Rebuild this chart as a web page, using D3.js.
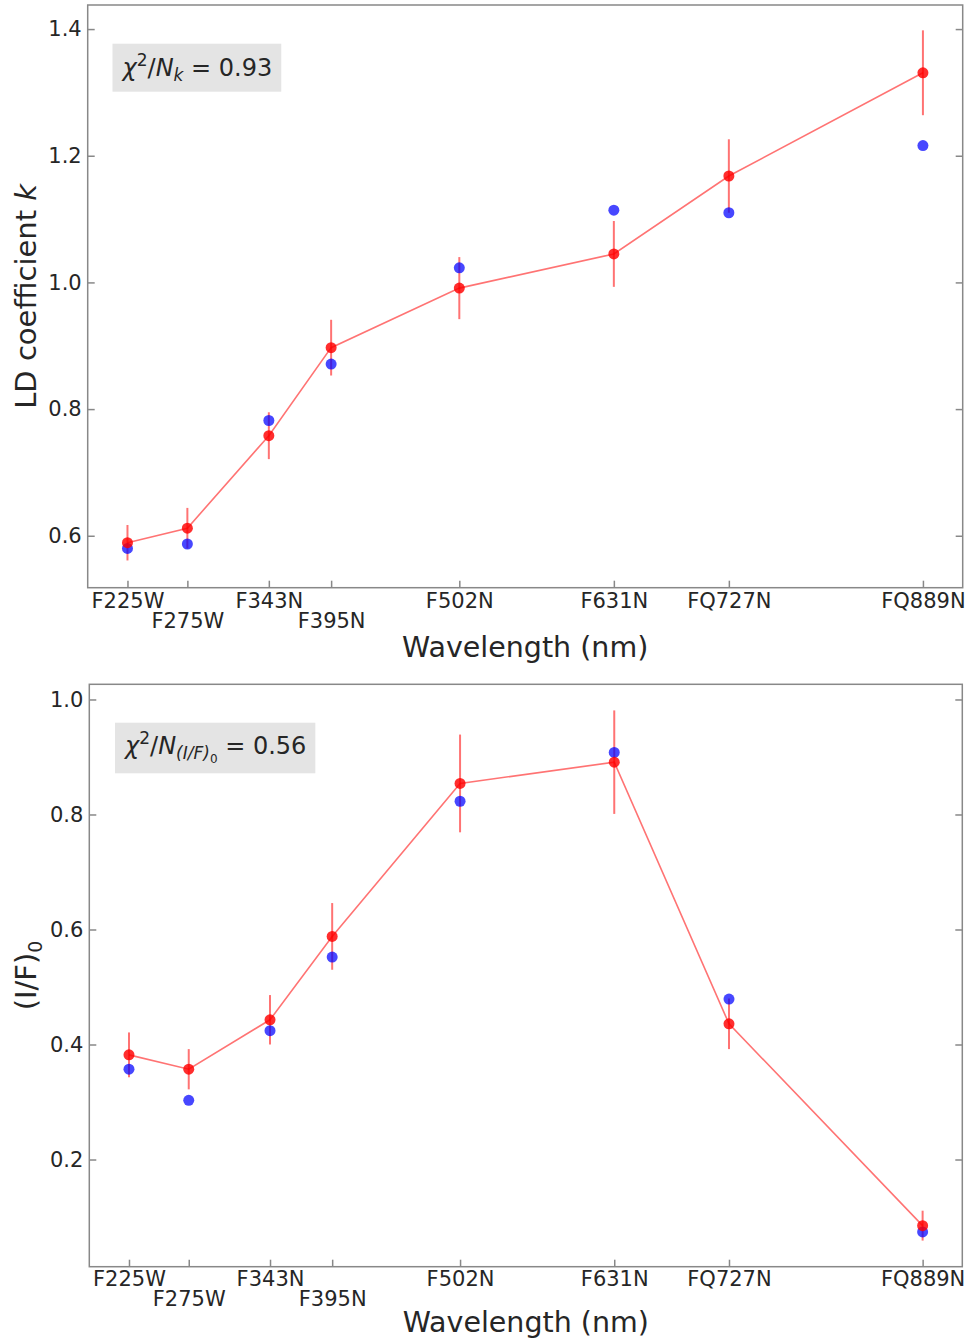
<!DOCTYPE html>
<html>
<head>
<meta charset="utf-8">
<script src="https://cdn.jsdelivr.net/npm/d3@7"></script>
<style>
  html, body { margin: 0; padding: 0; background: #fff; }
  svg { display: block; font-family: "DejaVu Sans", sans-serif; }
</style>
</head>
<body>
<svg id="chart" width="969" height="1343"></svg>
<script>
// ---- data ----
const filters = ["F225W", "F275W", "F343N", "F395N", "F502N", "F631N", "FQ727N", "FQ889N"];
const wavelengths = [225, 275, 343, 395, 502, 631, 727, 889];
// label row (0 = first row, 1 = second row, to avoid overlap)
const labelRow = [0, 1, 0, 1, 0, 0, 0, 0];

// LD coefficient k
const kObserved = [0.589, 0.612, 0.758, 0.897, 0.991, 1.045, 1.168, 1.331];
const kError    = [0.028, 0.032, 0.037, 0.044, 0.049, 0.052, 0.058, 0.067];
const kModel    = [0.580, 0.587, 0.782, 0.871, 1.023, 1.114, 1.110, 1.216];

// (I/F)_0
const ifObserved = [0.382, 0.357, 0.443, 0.588, 0.854, 0.891, 0.436, 0.085];
const ifError    = [0.039, 0.035, 0.043, 0.058, 0.085, 0.090, 0.044, 0.026];
const ifModel    = [0.357, 0.303, 0.424, 0.552, 0.823, 0.908, 0.479, 0.074];

const kTicks  = [0.6, 0.8, 1.0, 1.2, 1.4];
const ifTicks = [0.2, 0.4, 0.6, 0.8, 1.0];

// ---- drawing ----
const svg = d3.select("#chart");
const AXIS_COLOR = "#888";
const TEXT_COLOR = "#262626";

function drawPanel(cfg) {
  const x = d3.scaleLinear().domain([191.8, 922.2]).range([cfg.left, cfg.right]);
  const y = d3.scaleLinear().domain(cfg.yDomain).range([cfg.bottom, cfg.top]);
  const g = svg.append("g");

  // frame
  g.append("rect")
    .attr("x", cfg.left).attr("y", cfg.top)
    .attr("width", cfg.right - cfg.left).attr("height", cfg.bottom - cfg.top)
    .attr("fill", "none").attr("stroke", AXIS_COLOR).attr("stroke-width", 1.5);

  // left axis
  const ya = g.append("g").attr("transform", `translate(${cfg.left},0)`)
    .call(d3.axisLeft(y).tickValues(cfg.yTicks).tickFormat(d3.format(".1f")).tickSize(-7).tickPadding(6));
  // right axis (ticks only)
  const yr = g.append("g").attr("transform", `translate(${cfg.right},0)`)
    .call(d3.axisRight(y).tickValues(cfg.yTicks).tickFormat("").tickSize(-7));
  // bottom axis
  const xa = g.append("g").attr("transform", `translate(0,${cfg.bottom})`)
    .call(d3.axisBottom(x).tickValues(wavelengths).tickFormat((d, i) => filters[i]).tickSize(-7).tickPadding(cfg.xPad));
  [ya, yr, xa].forEach(a => {
    a.select(".domain").remove();
    a.selectAll(".tick line").attr("stroke", AXIS_COLOR).attr("stroke-width", 1.5);
    a.selectAll(".tick text").attr("fill", TEXT_COLOR).attr("font-size", 21)
      .attr("font-family", "DejaVu Sans, sans-serif");
  });
  xa.selectAll(".tick text").attr("y", (d, i) => cfg.xPad + labelRow[i] * 20);

  // connecting line
  const line = d3.line().x((d, i) => x(wavelengths[i])).y(d => y(d));
  g.append("path").datum(cfg.observed).attr("d", line)
    .attr("fill", "none").attr("stroke", "#ff0000").attr("stroke-opacity", 0.55).attr("stroke-width", 1.6);

  // error bars
  g.selectAll(".err").data(cfg.observed).enter().append("line")
    .attr("x1", (d, i) => x(wavelengths[i])).attr("x2", (d, i) => x(wavelengths[i]))
    .attr("y1", (d, i) => y(d - cfg.error[i])).attr("y2", (d, i) => y(d + cfg.error[i]))
    .attr("stroke", "#ff0000").attr("stroke-opacity", 0.55).attr("stroke-width", 2);

  // model points (blue)
  g.selectAll(".model").data(cfg.model).enter().append("circle")
    .attr("cx", (d, i) => x(wavelengths[i])).attr("cy", d => y(d)).attr("r", 5.5)
    .attr("fill", "#0000ff").attr("fill-opacity", 0.72);

  // observed points (red)
  g.selectAll(".obs").data(cfg.observed).enter().append("circle")
    .attr("cx", (d, i) => x(wavelengths[i])).attr("cy", d => y(d)).attr("r", 5.5)
    .attr("fill", "#ff0000").attr("fill-opacity", 0.82);

  // x axis title
  g.append("text").attr("x", (cfg.left + cfg.right) / 2).attr("y", cfg.xTitleY)
    .attr("text-anchor", "middle").attr("font-size", 28.5).attr("fill", TEXT_COLOR)
    .text("Wavelength (nm)");

  // y axis title
  const yt = g.append("text")
    .attr("transform", `translate(36,${(cfg.top + cfg.bottom) / 2}) rotate(-90)`)
    .attr("text-anchor", "middle").attr("font-size", 29).attr("fill", TEXT_COLOR);
  cfg.yTitle(yt);

  // annotation box
  const ann = g.append("g");
  const box = ann.append("rect").attr("fill", "#e4e4e4");
  const t = ann.append("text").attr("x", cfg.annX).attr("y", cfg.annY)
    .attr("font-size", 24).attr("fill", TEXT_COLOR);
  cfg.annText(t);
  const bb = t.node().getBBox();
  box.attr("x", bb.x - 8).attr("width", bb.width + 17)
    .attr("y", cfg.annY - cfg.boxUp).attr("height", cfg.boxH);
}

drawPanel({
  left: 87.7, right: 962.7, top: 5, bottom: 587.7,
  yDomain: [0.518, 1.438], yTicks: kTicks,
  observed: kObserved, error: kError, model: kModel,
  xPad: 5, xTitleY: 657,
  yTitle: t => {
    t.append("tspan").text("LD coefficient ");
    t.append("tspan").attr("font-style", "italic").text("k");
  },
  annX: 122.5, annY: 76, boxUp: 32.3, boxH: 48,
  annText: t => {
    t.append("tspan").attr("font-style", "italic").text("χ");
    t.append("tspan").attr("font-size", 17).attr("dy", -10).text("2");
    t.append("tspan").attr("dy", 10).text("/");
    t.append("tspan").attr("font-style", "italic").text("N");
    t.append("tspan").attr("font-style", "italic").attr("font-size", 17).attr("dy", 5).text("k");
    t.append("tspan").attr("dy", -5).text(" = 0.93");
  }
});

drawPanel({
  left: 89.3, right: 962.3, top: 684.3, bottom: 1266.7,
  yDomain: [0.0136, 1.0264], yTicks: ifTicks,
  observed: ifObserved, error: ifError, model: ifModel,
  xPad: 4, xTitleY: 1332,
  yTitle: t => {
    t.append("tspan").text("(I/F)");
    t.append("tspan").attr("font-size", 19).attr("dy", 6).text("0");
  },
  annX: 125, annY: 754, boxUp: 31.3, boxH: 50.6,
  annText: t => {
    t.append("tspan").attr("font-style", "italic").text("χ");
    t.append("tspan").attr("font-size", 17).attr("dy", -10).text("2");
    t.append("tspan").attr("dy", 10).text("/");
    t.append("tspan").attr("font-style", "italic").text("N");
    t.append("tspan").attr("font-style", "italic").attr("font-size", 17).attr("dy", 5).text("(I/F)");
    t.append("tspan").attr("font-size", 12).attr("dy", 4).text("0");
    t.append("tspan").attr("dy", -9).text(" = 0.56");
  }
});
</script>
</body>
</html>
